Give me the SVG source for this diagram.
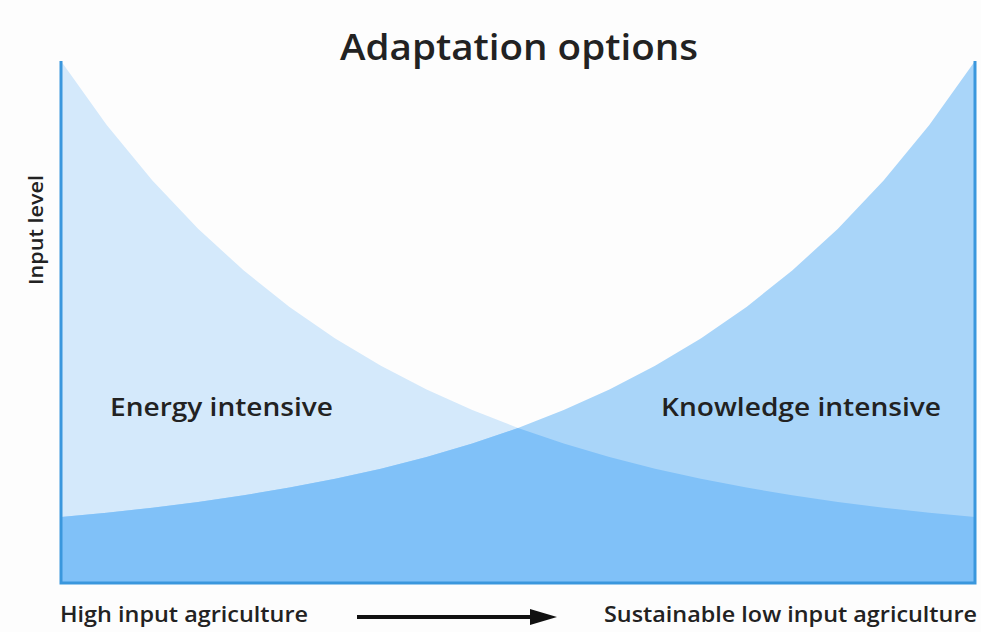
<svg xmlns="http://www.w3.org/2000/svg" width="981" height="632" viewBox="0 0 981 632">
  <style>
    .lbl { font-family: "Open Sans", "Liberation Sans", sans-serif; fill: #222; font-weight: 600; }
    .axis { stroke: #3a97dd; stroke-width: 3; fill: none; }
  </style>
  <defs>
    <marker id="arrowHead" markerWidth="7" markerHeight="6" refX="6" refY="3" orient="auto" markerUnits="strokeWidth">
      <path d="M0,0 L7,3 L0,6 Z" fill="#111"/>
    </marker>
  </defs>
  <rect width="981" height="632" fill="#fdfdfd"/>

  <!-- energy intensive area: falling curve -->
  <g id="energy-area">
    <polygon fill="#d4e9fb" points="61,61 106.7,125 152.4,180.5 198.1,228.7 243.8,270.6 289.5,306.9 335.2,338.4 380.9,365.8 426.6,389.5 472.3,410.1 518,428 563.7,443.5 609.4,457 655.1,468.7 700.8,478.8 746.5,487.6 792.2,495.3 837.9,501.9 883.6,507.7 929.3,512.7 975,517 975,583 61,583"/>
  </g>

  <!-- knowledge intensive area: rising curve -->
  <g id="knowledge-area">
    <polygon fill="#a9d5f9" points="975,61 929.3,125 883.6,180.5 837.9,228.7 792.2,270.6 746.5,306.9 700.8,338.4 655.1,365.8 609.4,389.5 563.7,410.1 518,428 472.3,443.5 426.6,457 380.9,468.7 335.2,478.8 289.5,487.6 243.8,495.3 198.1,501.9 152.4,507.7 106.7,512.7 61,517 61,583 975,583"/>
  </g>

  <!-- shared base below both curves -->
  <g id="overlap-area">
    <polygon fill="#80c1f8" points="61,517 106.7,512.7 152.4,507.7 198.1,501.9 243.8,495.3 289.5,487.6 335.2,478.8 380.9,468.7 426.6,457 472.3,443.5 518,428 563.7,443.5 609.4,457 655.1,468.7 700.8,478.8 746.5,487.6 792.2,495.3 837.9,501.9 883.6,507.7 929.3,512.7 975,517 975,583 61,583"/>
  </g>

  <!-- axes -->
  <g id="axes">
    <path class="axis" d="M61,61 V583 H975 V61"/>
  </g>

  <g id="title">
    <text class="lbl" x="519" y="60" font-size="36" font-weight="500" text-anchor="middle" textLength="358" lengthAdjust="spacingAndGlyphs">Adaptation options</text>
  </g>
  <g id="y-label">
    <text class="lbl" transform="translate(43,230) rotate(-90)" font-size="20" text-anchor="middle" textLength="110" lengthAdjust="spacingAndGlyphs">Input level</text>
  </g>
  <g id="energy-label">
    <text class="lbl" x="110" y="416" font-size="26" textLength="223" lengthAdjust="spacingAndGlyphs">Energy intensive</text>
  </g>
  <g id="knowledge-label">
    <text class="lbl" x="661" y="416" font-size="26" textLength="280" lengthAdjust="spacingAndGlyphs">Knowledge intensive</text>
  </g>
  <g id="x-left-label">
    <text class="lbl" x="60" y="622" font-size="21" textLength="248" lengthAdjust="spacingAndGlyphs">High input agriculture</text>
  </g>
  <g id="x-right-label">
    <text class="lbl" x="604" y="622" font-size="21" textLength="373" lengthAdjust="spacingAndGlyphs">Sustainable low input agriculture</text>
  </g>

  <g id="connectors">
    <line x1="357" y1="617" x2="530" y2="617" stroke="#111" stroke-width="4"/>
    <path d="M530,609 L557,617 L530,625 Z" fill="#111"/>
  </g>
</svg>
